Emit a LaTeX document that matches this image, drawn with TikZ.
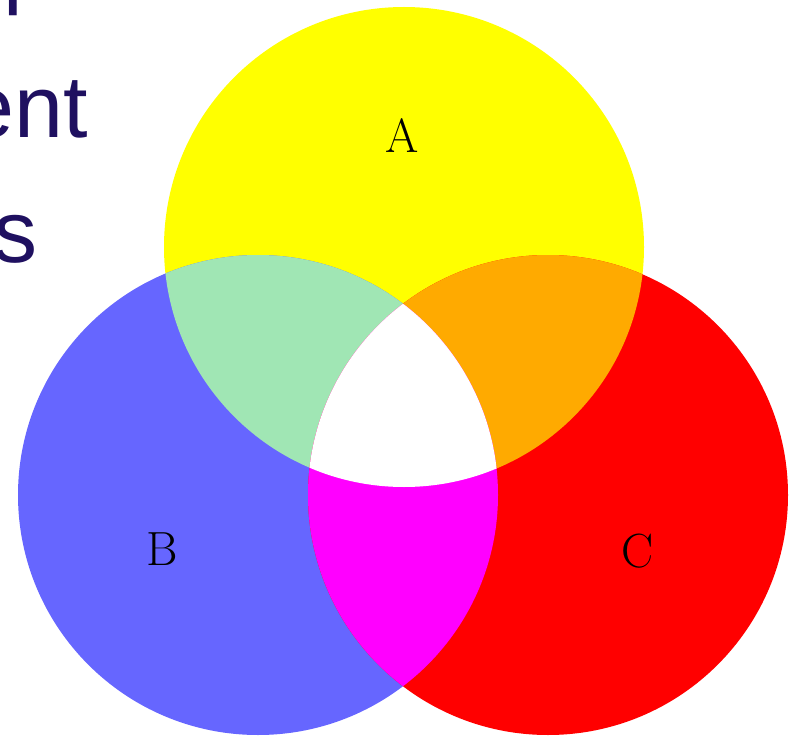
\documentclass[tikz,border=0pt]{standalone}
\usepackage{fontspec}
\newfontfamily\slidefont{Liberation Sans}
\definecolor{cA}{HTML}{FFFF00}
\definecolor{cB}{HTML}{6666FF}
\definecolor{cC}{HTML}{FF0000}
\definecolor{cAB}{HTML}{A0E6B4}
\definecolor{cAC}{HTML}{FFAA00}
\definecolor{cBC}{HTML}{FF00FF}
\definecolor{navy}{HTML}{1F1060}
\tikzset{
  lbl/.style={inner sep=0pt, anchor=base, font=\fontsize{48}{48}\selectfont, text=black},
  slide/.style={inner sep=0pt, anchor=base west, font=\slidefont\fontsize{88}{88}\selectfont, text=navy}
}
\begin{document}
\begin{tikzpicture}[x=1pt,y=-1pt]
\useasboundingbox (0,0) rectangle (796,741);
\clip (0,0) rectangle (796,741);
\coordinate (cA) at (404,247);
\coordinate (cB) at (258,495);
\coordinate (cC) at (548,495);
% circles
\fill[cA] (cA) circle[radius=240pt];
\fill[cB] (cB) circle[radius=240pt];
\fill[cC] (cC) circle[radius=240pt];
% pairwise overlaps
\begin{scope}
  \clip (cA) circle[radius=240pt];
  \fill[cAB] (cB) circle[radius=240pt];
\end{scope}
\begin{scope}
  \clip (cA) circle[radius=240pt];
  \fill[cAC] (cC) circle[radius=240pt];
\end{scope}
\begin{scope}
  \clip (cB) circle[radius=240pt];
  \fill[cBC] (cC) circle[radius=240pt];
\end{scope}
\begin{scope}
  \clip (cA) circle[radius=240pt];
  \clip (cB) circle[radius=240pt];
  \fill[white] (cC) circle[radius=240pt];
\end{scope}
% labels
\node[lbl] (la) at (402,153) {A};
\node[lbl] (lb) at (162,565) {B};
\node[lbl] (lc) at (638,567) {C};
% cropped slide text
\node[slide] (t1) at (3,-2.5) {p};
\node[slide, anchor=base east] (t2) at (88,138) {ent};
\node[slide, anchor=base east] (t3) at (38,262) {s};
\end{tikzpicture}
\end{document}
